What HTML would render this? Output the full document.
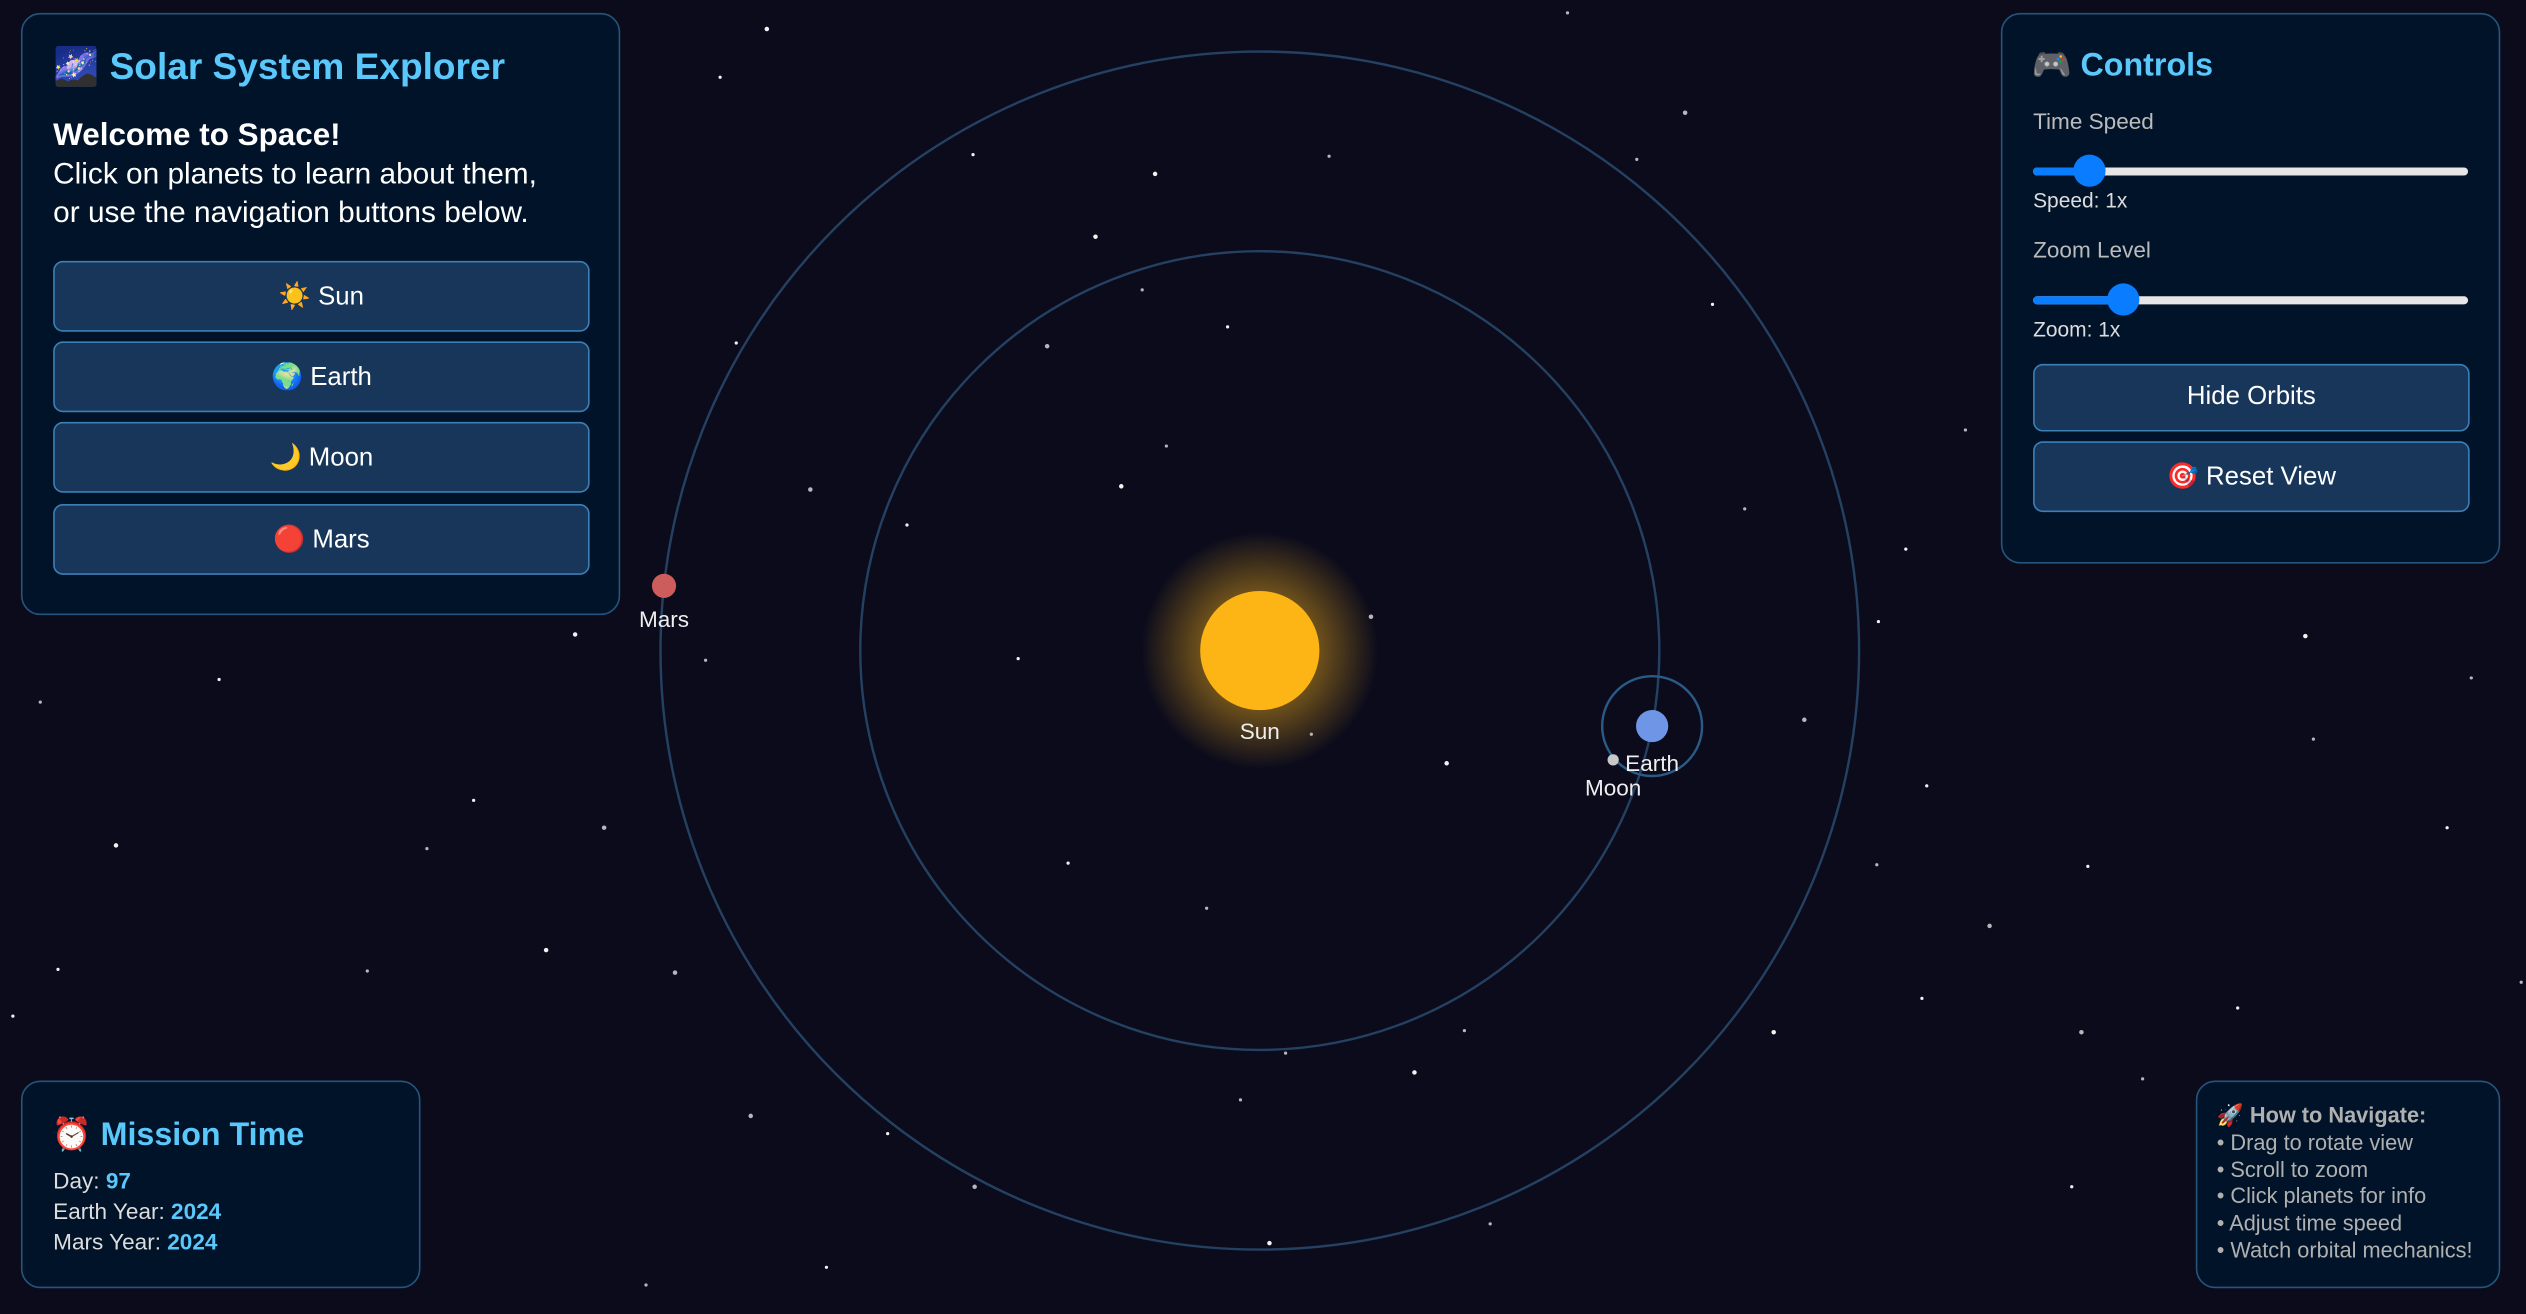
<!DOCTYPE html>
<html><head><meta charset="utf-8">
<style>
html,body{margin:0;padding:0;width:2526px;height:1314px;overflow:hidden;background:#0b0b1c;}
#root{position:absolute;left:0;top:0;width:1568px;height:816px;transform:scale(1.611,1.6103);transform-origin:0 0;font-family:"Liberation Sans","DejaVu Sans",sans-serif;color:#fff;}
.panel{position:absolute;background:#011329;border:1.5px solid #24557c;border-radius:12px;box-sizing:border-box;}
.title{position:absolute;color:#5ac8fa;font-weight:bold;white-space:nowrap;}
.btn{position:absolute;box-sizing:border-box;background:#17365a;border:1.5px solid #3b7fb5;border-radius:6px;color:#fff;font-size:16px;display:flex;align-items:center;justify-content:center;}
.lbl{position:absolute;white-space:nowrap;}
.track{position:absolute;height:5px;background:#e6e6e6;border-radius:3px;}
.fill{position:absolute;height:5px;background:#0a7cff;border-radius:3px;}
.thumb{position:absolute;width:20px;height:20px;border-radius:50%;background:#0a7cff;}
.v{color:#5ac8fa;font-weight:bold;}
</style></head><body>
<div id="root">
<svg id="scene" width="1568" height="816" style="position:absolute;left:0;top:0">
<defs><radialGradient id="glow"><stop offset="0.45" stop-color="#fbb41a" stop-opacity="0.45"/><stop offset="1" stop-color="#fbb41a" stop-opacity="0"/></radialGradient></defs>
<g id="stars"></g><g id="orbits"></g><g id="bodies"></g>
</svg>

<div class="panel" style="left:13px;top:8px;width:372px;height:374px">
  <div class="title" style="left:19px;top:19px;font-size:23px">🌌 Solar System Explorer</div>
  <div class="lbl" style="left:19px;top:63px;font-size:18.5px;line-height:24px"><b style="font-size:19.5px">Welcome to Space!</b><br>Click on planets to learn about them,<br>or use the navigation buttons below.</div>
  <div class="btn" style="left:19px;top:153px;width:333px;height:44px">☀️ Sun</div>
  <div class="btn" style="left:19px;top:203px;width:333px;height:44px">🌍 Earth</div>
  <div class="btn" style="left:19px;top:253px;width:333px;height:44px">🌙 Moon</div>
  <div class="btn" style="left:19px;top:304px;width:333px;height:44px">🔴 Mars</div>
</div>

<div class="panel" style="left:1242px;top:8px;width:310px;height:342px">
  <div class="title" style="left:18px;top:19px;font-size:20px">🎮 Controls</div>
  <div class="lbl" style="left:19px;top:58px;font-size:14px;color:#bbb">Time Speed</div>
  <div style="position:absolute;left:19px;top:86px;width:270px;height:22px">
    <div class="track" style="left:0;top:9px;width:270px"></div><div class="fill" style="left:0;top:9px;width:35px"></div><div class="thumb" style="left:25px;top:1px"></div></div>
  <div class="lbl" style="left:19px;top:108px;font-size:13px;color:#ddd">Speed: 1x</div>
  <div class="lbl" style="left:19px;top:138px;font-size:14px;color:#bbb">Zoom Level</div>
  <div style="position:absolute;left:19px;top:166px;width:270px;height:22px">
    <div class="track" style="left:0;top:9px;width:270px"></div><div class="fill" style="left:0;top:9px;width:56px"></div><div class="thumb" style="left:46px;top:1px"></div></div>
  <div class="lbl" style="left:19px;top:188px;font-size:13px;color:#ddd">Zoom: 1x</div>
  <div class="btn" style="left:19px;top:217px;width:271px;height:42px">Hide Orbits</div>
  <div class="btn" style="left:19px;top:265px;width:271px;height:44px">🎯 Reset View</div>
</div>

<div class="panel" style="left:13px;top:671px;width:248px;height:129px">
  <div class="title" style="left:18px;top:20px;font-size:20px">⏰ Mission Time</div>
  <div class="lbl" style="left:19px;top:52px;font-size:14px;line-height:19px;color:#ddd">Day: <span class="v">97</span><br>Earth Year: <span class="v">2024</span><br>Mars Year: <span class="v">2024</span></div>
</div>

<div class="panel" style="left:1363px;top:671px;width:189px;height:129px">
  <div class="lbl" style="left:12px;top:13px;font-size:13.5px;line-height:16.8px;color:#b0b0b0"><b>🚀 How to Navigate:</b><br>• Drag to rotate view<br>• Scroll to zoom<br>• Click planets for info<br>• Adjust time speed<br>• Watch orbital mechanics!</div>
</div>
</div>
<script>
const bodyNames = ['Sun','Earth','Mars'];
const orbitRadii = [0, 248, 372];
const bodyAngles = [0, -10.9, 173.8];
const bodyRadii = [37, 10, 7.5];
const bodyColors = ['#fdb515','#6f96e6','#cd5c5c'];
const moonOrbitRadius = 31;
const moonAngle = 138;
const starX = [476,973,447,1046,604,825,717,1016,762,650,1063,1220,680,709,457,503,563,724,696,1083,1183,851,632,438,357,25,136,1120,1166,1534,898,814,1196,375,294,265,72,1165,1296,1235,663,749,339,228,36,419,8,909,1101,798,1193,1292,1389,1330,878,770,551,466,1286,925,788,401,513,605,1519,1436,1431,1565];
const starY = [18,8,48,70,96,97,108,99,203,215,189,267,147,180,213,304,326,277,302,316,341,383,409,410,394,436,422,447,386,421,474,456,488,514,497,527,525,537,538,575,536,564,590,603,602,604,631,640,641,654,620,641,626,670,666,683,704,693,737,760,772,798,787,737,514,459,395,610];
const NS='http://www.w3.org/2000/svg';
const cx=782, cy=404;
function px(r,a){return cx+r*Math.cos(a*Math.PI/180);}
function py(r,a){return cy-r*Math.sin(a*Math.PI/180);}
function mk(tag,attrs,parent){const e=document.createElementNS(NS,tag);for(const k in attrs)e.setAttribute(k,attrs[k]);parent.appendChild(e);return e;}
const gs=document.getElementById('stars'),go=document.getElementById('orbits'),gb=document.getElementById('bodies');
for(let i=0;i<starX.length;i++){
  const s=mk('circle',{cx:starX[i],cy:starY[i],r:(i%3===0?1.4:1),fill:'#fff','fill-opacity':(i%2?0.7:0.95)},gs);
  
  
}
for(let i=1;i<bodyNames.length;i++){
  const o=mk('circle',{cx:cx,cy:cy,r:orbitRadii[i],fill:'none',stroke:'#2a4f73','stroke-width':1.5,'stroke-opacity':0.8},go);
  
  
}
const glow=mk('circle',{cx:cx,cy:cy,r:74,fill:'url(#glow)'},gb);


let ex=0,ey=0;
for(let i=0;i<bodyNames.length;i++){
  const x=px(orbitRadii[i],bodyAngles[i]), y=py(orbitRadii[i],bodyAngles[i]);
  if(bodyNames[i]==='Earth'){ex=x;ey=y;
    const mo=mk('circle',{cx:x,cy:y,r:moonOrbitRadius,fill:'none',stroke:'#2a5a85','stroke-width':1.5},gb);
    
    
  }
  const c=mk('circle',{cx:x,cy:y,r:bodyRadii[i],fill:bodyColors[i]},gb);
  
  
  const t=mk('text',{x:x,y:y+bodyRadii[i]+18,'text-anchor':'middle','font-size':14,fill:'#eee','font-family':'Liberation Sans, sans-serif'},gb);
  t.textContent=bodyNames[i];
  
  
}
const mx=ex+moonOrbitRadius*Math.cos(moonAngle*Math.PI/180)*1.05, my=ey+21;
const m=mk('circle',{cx:mx,cy:my,r:3.5,fill:'#c8c8c8'},gb);


const mt=mk('text',{x:mx,y:my+22,'text-anchor':'middle','font-size':14,fill:'#eee','font-family':'Liberation Sans, sans-serif'},gb);
mt.textContent='Moon';


</script>
</body></html>
